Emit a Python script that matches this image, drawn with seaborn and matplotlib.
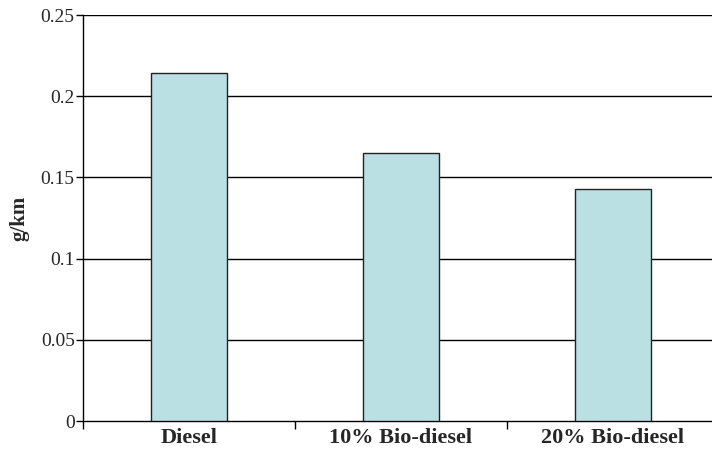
import matplotlib
matplotlib.use("Agg")
import matplotlib.pyplot as plt
import numpy as np
import pandas as pd
import seaborn as sns

categories = ["Diesel", "10% Bio-diesel", "20% Bio-diesel"]
values = [0.214, 0.165, 0.143]
y_ticks = [0, 0.05, 0.1, 0.15, 0.2, 0.25]
y_tick_labels = ["0", "0.05", "0.1", "0.15", "0.2", "0.25"]

sns.set_style("white")
plt.rcParams["font.family"] = ["Liberation Serif", "DejaVu Serif"]

df = pd.DataFrame({"fuel": categories, "gkm": values})

fig = plt.figure(figsize=(7.12, 4.54), dpi=100)
ax = fig.add_axes([83 / 712, 33 / 454, 636 / 712, 406 / 454])

sns.barplot(data=df, x="fuel", y="gkm", color="#BAE0E3", saturation=1,
            width=0.36, edgecolor="#222222", linewidth=1, ax=ax, zorder=3)

ax.set_ylim(0, 0.25)
ax.set_xlim(-0.5, 2.5)
ax.set_yticks(y_ticks)
ax.set_yticklabels(y_tick_labels, fontsize=14)
for y in y_ticks[1:]:
    ax.axhline(y, color="black", linewidth=1, zorder=1)

ax.set_xticks(range(len(categories)))
ax.set_xticklabels(categories, fontsize=16, fontweight="bold")
ax.set_xticks(np.arange(len(categories) + 1) - 0.5, minor=True)
ax.tick_params(axis="x", which="major", length=0, pad=5)
ax.tick_params(axis="x", which="minor", bottom=True, length=6, width=1,
               color="black", direction="out")
ax.tick_params(axis="y", length=5, width=1, color="black", direction="out",
               left=True, pad=1)

ax.set_xlabel("")
ax.set_ylabel("g/km", fontsize=15, fontweight="bold", labelpad=8)

for side in ["left", "bottom"]:
    ax.spines[side].set_color("black")
    ax.spines[side].set_linewidth(1)
ax.spines["top"].set_visible(False)
ax.spines["right"].set_visible(False)

fig.savefig("out.png", dpi=100)
